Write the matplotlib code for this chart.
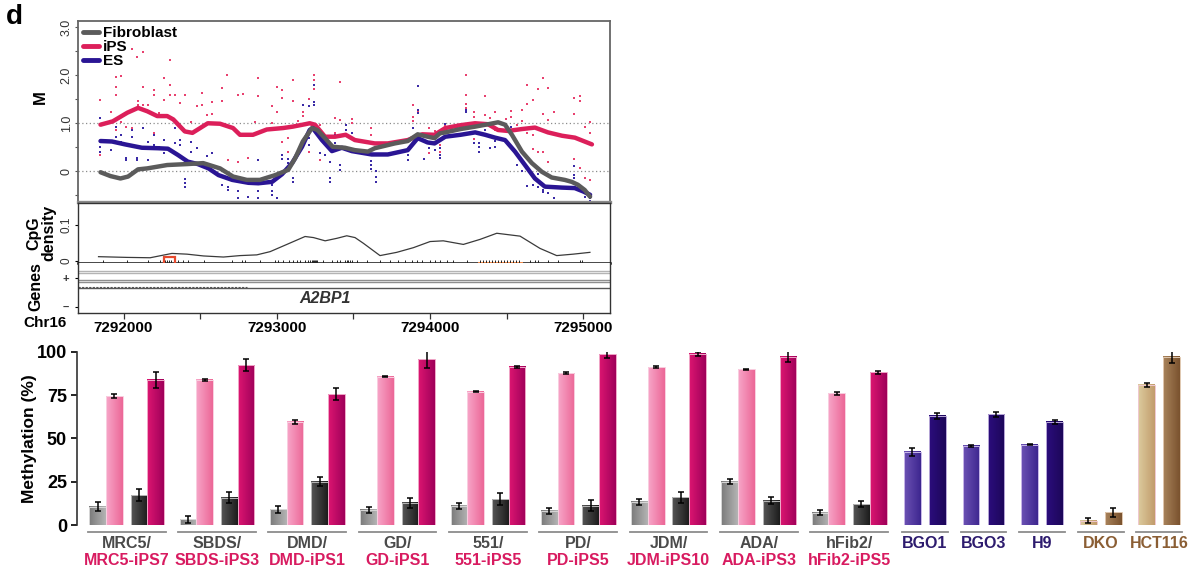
import numpy as np
import matplotlib
matplotlib.use("Agg")
import matplotlib.pyplot as plt
from matplotlib.colors import LinearSegmentedColormap
from matplotlib.lines import Line2D
from matplotlib.patches import Rectangle

plt.rcParams['font.family'] = ['Liberation Sans', 'DejaVu Sans']

# ---------------------------------------------------------------- data
# smoothed methylation (M) along chr16 for the three cell types
fibro_curve = [(7291850, -0.02), (7291915, -0.10), (7291980, -0.15), (7292030, -0.11),
               (7292095, 0.04), (7292155, 0.06), (7292285, 0.13), (7292415, 0.15),
               (7292520, 0.17), (7292630, 0.06), (7292715, -0.11), (7292805, -0.18),
               (7292890, -0.18), (7292990, -0.08), (7293075, 0.03), (7293120, 0.27),
               (7293170, 0.62), (7293230, 0.90), (7293265, 0.86), (7293315, 0.69),
               (7293365, 0.51), (7293445, 0.49), (7293510, 0.44), (7293595, 0.41),
               (7293640, 0.48), (7293770, 0.58), (7293855, 0.63), (7293920, 0.77),
               (7293985, 0.72), (7294030, 0.69), (7294065, 0.79), (7294100, 0.81),
               (7294200, 0.88), (7294295, 0.93), (7294380, 0.98), (7294445, 1.02),
               (7294490, 0.97), (7294535, 0.76), (7294600, 0.41), (7294665, 0.17),
               (7294730, -0.01), (7294795, -0.13), (7294880, -0.18), (7294925, -0.22),
               (7294965, -0.28), (7295010, -0.39), (7295045, -0.53)]
ips_curve = [(7291850, 0.97), (7291930, 1.04), (7292025, 1.22), (7292095, 1.32),
             (7292155, 1.25), (7292220, 1.15), (7292285, 1.15), (7292325, 1.08),
             (7292400, 0.83), (7292450, 0.80), (7292500, 0.90), (7292550, 1.00),
             (7292630, 0.99), (7292715, 0.90), (7292760, 0.76), (7292845, 0.76),
             (7292935, 0.87), (7293040, 0.90), (7293105, 0.93), (7293185, 0.98),
             (7293215, 1.00), (7293250, 0.97), (7293315, 0.72), (7293380, 0.72),
             (7293450, 0.76), (7293510, 0.65), (7293640, 0.58), (7293725, 0.58),
             (7293855, 0.65), (7293950, 0.77), (7294030, 0.76), (7294100, 0.90),
             (7294200, 0.96), (7294294, 1.00), (7294379, 0.98), (7294444, 0.86),
             (7294509, 0.84), (7294601, 0.88), (7294685, 0.91), (7294770, 0.81),
             (7294862, 0.74), (7294946, 0.70), (7295057, 0.56)]
es_curve = [(7291850, 0.63), (7291925, 0.62), (7292010, 0.56), (7292120, 0.49),
            (7292225, 0.48), (7292290, 0.47), (7292355, 0.34), (7292420, 0.20),
            (7292485, 0.15), (7292555, 0.06), (7292620, -0.08), (7292710, -0.18),
            (7292815, -0.24), (7292880, -0.25), (7292970, -0.22), (7293035, -0.06),
            (7293100, 0.17), (7293165, 0.51), (7293215, 0.86), (7293235, 0.90),
            (7293295, 0.65), (7293360, 0.42), (7293425, 0.49), (7293490, 0.42),
            (7293620, 0.35), (7293725, 0.35), (7293855, 0.44), (7293920, 0.69),
            (7293985, 0.60), (7294030, 0.58), (7294100, 0.72), (7294200, 0.76),
            (7294295, 0.81), (7294360, 0.76), (7294425, 0.70), (7294490, 0.65),
            (7294555, 0.41), (7294620, 0.13), (7294685, -0.15), (7294750, -0.32),
            (7294860, -0.34), (7294945, -0.35), (7295000, -0.42), (7295045, -0.49)]

# individual sample values at CpG sites
ips_dots = [(7291848, 1.49), (7291848, 0.34), (7291920, 1.24), (7291952, 1.97), (7291952, 1.76),
            (7291952, 1.59), (7291952, 0.86), (7291985, 1.99), (7291985, 1.03), (7292018, 0.93),
            (7292057, 2.54), (7292057, 0.90), (7292089, 2.37), (7292096, 1.47), (7292096, 1.38),
            (7292129, 2.48), (7292129, 1.76), (7292129, 1.38), (7292161, 1.38), (7292200, 1.69),
            (7292200, 1.59), (7292200, 0.79), (7292233, 1.22), (7292265, 1.95), (7292265, 1.49),
            (7292304, 2.32), (7292304, 1.80), (7292304, 1.59), (7292337, 1.59), (7292370, 1.42),
            (7292402, 1.59), (7292442, 1.02), (7292481, 1.35), (7292513, 1.62), (7292513, 1.38),
            (7292546, 1.17), (7292579, 1.19), (7292579, 1.44), (7292644, 1.73), (7292644, 1.47),
            (7292676, 2.00), (7292683, 0.24), (7292748, 1.59), (7292748, 0.20), (7292781, 1.61),
            (7292813, 0.27), (7292859, 1.03), (7292879, 1.95), (7292879, 1.57), (7292970, 1.35),
            (7292970, 1.00), (7293003, 1.76), (7293003, 1.24), (7293035, 1.69), (7293035, 1.52),
            (7293035, 0.62), (7293074, 0.69), (7293074, 0.41), (7293106, 1.90), (7293106, 1.47),
            (7293139, 1.05), (7293171, 1.24), (7293171, 1.15), (7293210, 1.50), (7293210, 0.41),
            (7293243, 2.00), (7293243, 1.90), (7293243, 1.80), (7293243, 1.72), (7293282, 0.97),
            (7293282, 0.24), (7293347, 0.58), (7293380, 1.10), (7293380, 0.79), (7293413, 1.85),
            (7293413, 1.07), (7293452, 0.97), (7293491, 1.09), (7293491, 1.00), (7293615, 0.91),
            (7293615, 0.76), (7293889, 1.38), (7293889, 1.14), (7293889, 1.05), (7293921, 1.24),
            (7293994, 0.90), (7293994, 0.38), (7294032, 0.83), (7294065, 0.55), (7294065, 0.41),
            (7294098, 0.97), (7294235, 2.00), (7294235, 1.59), (7294235, 1.40), (7294235, 1.31),
            (7294287, 1.24), (7294287, 1.14), (7294287, 0.67), (7294359, 1.56), (7294359, 1.17),
            (7294392, 1.10), (7294424, 1.24), (7294424, 0.86), (7294496, 1.09), (7294529, 1.26),
            (7294529, 1.14), (7294568, 0.97), (7294601, 1.28), (7294601, 1.05), (7294633, 1.80),
            (7294633, 1.40), (7294633, 0.79), (7294672, 1.49), (7294672, 0.76), (7294672, 0.47),
            (7294705, 1.72), (7294705, 0.40), (7294738, 1.94), (7294738, 1.19), (7294738, 0.40),
            (7294770, 1.73), (7294770, 1.07), (7294770, 0.20), (7294809, 1.23), (7294940, 1.52),
            (7294940, 1.19), (7294940, 0.26), (7294979, 1.56), (7294979, 1.47), (7294979, 0.06),
            (7295011, 0.93), (7295011, -0.13), (7295044, 1.02), (7295044, 0.79), (7295044, -0.19)]
es_dots = [(7291848, 1.12), (7291848, 0.41), (7291848, 0.51), (7291920, 0.44), (7291952, 0.93),
           (7291952, 0.72), (7291985, 0.76), (7291985, 0.62), (7292018, 0.28), (7292018, 0.24),
           (7292057, 0.86), (7292057, 0.72), (7292089, 0.28), (7292089, 0.24), (7292129, 0.90),
           (7292129, 0.51), (7292161, 0.62), (7292161, 0.24), (7292200, 0.76), (7292200, 0.55),
           (7292233, 0.51), (7292265, 0.65), (7292265, 0.38), (7292337, 0.90), (7292337, 0.58),
           (7292370, 0.65), (7292370, 0.55), (7292402, -0.17), (7292402, -0.25), (7292402, -0.32),
           (7292442, 0.62), (7292442, 0.41), (7292481, 0.49), (7292513, 0.10), (7292546, 0.31),
           (7292579, 0.38), (7292644, -0.28), (7292683, -0.32), (7292683, -0.39), (7292748, -0.42),
           (7292748, -0.55), (7292813, -0.53), (7292879, -0.42), (7292879, -0.55), (7292879, 0.24),
           (7292970, -0.28), (7292970, -0.42), (7292970, -0.49), (7293003, -0.56), (7293035, 0.34),
           (7293035, 0.26), (7293074, 0.26), (7293074, 0.17), (7293106, -0.15), (7293106, -0.22),
           (7293171, 1.38), (7293210, 1.36), (7293210, 0.69), (7293210, 0.55), (7293243, 1.80),
           (7293243, 1.45), (7293243, 1.38), (7293282, 0.38), (7293315, 0.34), (7293347, 0.20),
           (7293347, -0.15), (7293347, -0.23), (7293380, 0.76), (7293380, 0.58), (7293413, 0.13),
           (7293413, 0.03), (7293452, 0.97), (7293452, 0.86), (7293491, 0.79), (7293615, 0.22),
           (7293615, 0.13), (7293615, 0.05), (7293648, 0.00), (7293648, -0.11), (7293648, -0.22),
           (7293856, 0.34), (7293856, 0.24), (7293889, 0.91), (7293921, 1.78), (7293921, 1.28),
           (7293921, 1.21), (7293961, 0.26), (7293994, 0.48), (7294032, 0.44), (7294065, 0.48),
           (7294065, 0.34), (7294065, 0.27), (7294098, 0.98), (7294235, 1.28), (7294235, 1.24),
           (7294287, 0.58), (7294320, 0.58), (7294320, 0.51), (7294320, 0.41), (7294359, 0.86),
           (7294392, 0.48), (7294424, 0.63), (7294424, 0.51), (7294529, 0.93), (7294568, 0.34),
           (7294568, 0.13), (7294601, 0.00), (7294633, -0.30), (7294672, -0.28), (7294705, -0.06),
           (7294705, -0.32), (7294738, -0.39), (7294738, -0.43), (7294770, -0.46), (7294809, -0.55),
           (7294940, 0.12), (7294940, -0.08), (7294940, -0.15), (7294940, -0.22), (7294979, -0.42),
           (7295011, -0.53), (7295044, -0.49), (7295044, -0.56), (7295044, -0.62)]

# CpG density along the region
cpg_density = [(7291837, 0.012), (7292022, 0.010), (7292174, 0.009), (7292316, 0.021),
               (7292414, 0.019), (7292522, 0.014), (7292652, 0.011), (7292761, 0.015),
               (7292870, 0.017), (7292957, 0.026), (7293066, 0.046), (7293185, 0.068),
               (7293240, 0.065), (7293316, 0.056), (7293393, 0.063), (7293457, 0.070),
               (7293511, 0.065), (7293566, 0.049), (7293674, 0.015), (7293783, 0.024),
               (7293892, 0.037), (7294001, 0.054), (7294087, 0.056), (7294218, 0.046),
               (7294327, 0.060), (7294436, 0.077), (7294588, 0.069), (7294718, 0.035),
               (7294827, 0.015), (7294935, 0.019), (7295044, 0.024)]
cpg_sites = [7291868, 7292024, 7292161, 7292239, 7292272, 7292285, 7292298, 7292311, 7292357,
             7292389, 7292422, 7292526, 7292709, 7292774, 7292794, 7292892, 7292990, 7293009,
             7293041, 7293080, 7293106, 7293132, 7293152, 7293184, 7293204, 7293217, 7293230,
             7293237, 7293243, 7293250, 7293256, 7293263, 7293302, 7293361, 7293393, 7293413,
             7293445, 7293458, 7293465, 7293478, 7293491, 7293523, 7293589, 7293674, 7293739,
             7293791, 7293837, 7293882, 7293915, 7293948, 7294001, 7294032, 7294065, 7294111,
             7294150, 7294241, 7294327, 7294346, 7294366, 7294385, 7294405, 7294424, 7294444,
             7294464, 7294483, 7294503, 7294522, 7294542, 7294562, 7294581, 7294653, 7294685,
             7294705, 7294770, 7294835, 7294979, 7294992]
island_region = (7294312, 7294605)
marked_region = (7292262, 7292337)
gene_name = "A2BP1"
gene_label_pos = 7293315
genome_ticks = [7292000, 7293000, 7294000, 7295000]

# bisulfite pyrosequencing: fibroblast / iPS pairs (two measurements each)
fibro_names = ["MRC5/", "SBDS/", "DMD/", "GD/", "551/", "PD/", "JDM/", "ADA/", "hFib2/"]
ips_names = ["MRC5-iPS7", "SBDS-iPS3", "DMD-iPS1", "GD-iPS1", "551-iPS5", "PD-iPS5",
             "JDM-iPS10", "ADA-iPS3", "hFib2-iPS5"]
fib_a = [10.6, 3.3, 9.0, 8.7, 11.0, 8.1, 13.3, 25.0, 7.1]
fib_a_err = [2.7, 2.0, 1.9, 1.9, 1.5, 1.6, 1.9, 1.5, 1.5]
ips_a = [74.4, 83.7, 59.6, 85.6, 76.9, 87.5, 91.0, 89.8, 76.0]
ips_a_err = [1.2, 0.5, 1.2, 0.4, 0.4, 0.6, 0.5, 0.2, 1.0]
fib_b = [17.3, 15.8, 25.0, 12.9, 14.8, 11.2, 16.0, 14.0, 12.1]
fib_b_err = [3.3, 3.2, 2.7, 2.9, 3.4, 3.4, 3.2, 1.9, 1.9]
ips_b = [83.7, 92.3, 75.4, 95.6, 91.3, 98.5, 98.7, 97.1, 88.1]
ips_b_err = [4.6, 3.3, 3.5, 4.8, 0.5, 2.0, 1.2, 3.2, 0.8]

other_names = ["BGO1", "BGO3", "H9", "DKO", "HCT116"]
other_a = [42.3, 45.6, 46.3, 2.5, 80.8]
other_a_err = [2.2, 0.5, 0.3, 1.4, 1.1]
other_b = [62.9, 63.8, 59.6, 7.3, 97.1]
other_b_err = [1.9, 1.2, 1.1, 2.4, 3.7]
methyl_ticks = [0, 25, 50, 75, 100]

# ---------------------------------------------------------------- style
C_FIB, C_IPS, C_ES = "#5b5b5b", "#dc1f5a", "#2a1594"
C_IPS_DOT, C_ES_DOT = "#e8416f", "#3a2aa6"
C_IPS_TXT = "#d81b60"
C_ES_TXT, C_CANCER_TXT = "#2d1b6e", "#8b5e34"

W, H = 1196, 575
fig = plt.figure(figsize=(W / 100, H / 100), dpi=100)


def axes_px(l, t, r, b):
    return fig.add_axes([l / W, 1 - b / H, (r - l) / W, (b - t) / H])


def text_px(x, y, s, **kw):
    fig.text(x / W, 1 - y / H, s, **kw)


XLIM = (7291705, 7295175)

# ---------------------------------------------------------------- methylation track
ax = axes_px(78.3, 21, 610, 202)
ax.set_xlim(*XLIM)
ax.set_ylim(-0.64, 3.13)
for yv in (0, 1):
    ax.axhline(yv, color="#8c8c8c", lw=0.9, ls=(0, (1, 2)), zorder=1)

for dots, col in ((ips_dots, C_IPS_DOT), (es_dots, C_ES_DOT)):
    px, py = zip(*dots)
    ax.plot(px, py, ls="none", marker="s", ms=1.9, mew=0, color=col, zorder=2)

for curve, col in ((ips_curve, C_IPS), (es_curve, C_ES), (fibro_curve, C_FIB)):
    cx, cy = zip(*curve)
    ax.plot(cx, cy, color=col, lw=3.2, solid_joinstyle="round",
            solid_capstyle="round", zorder=3)

ax.set_xticks([])
ax.set_yticks(np.arange(-0.5, 3.01, 0.5))
ax.set_yticklabels(["", "0", "", "1.0", "", "2.0", "", "3.0"],
                   rotation=90, va="center", fontsize=9, color="#333333")
ax.tick_params(axis="y", length=2.5, width=0.8, pad=1.5, color="#555555")
for side in ("left", "right", "top"):
    ax.spines[side].set_color("#666666")
    ax.spines[side].set_linewidth(1.3)
ax.spines["bottom"].set_color("#8a8a8a")
ax.spines["bottom"].set_linewidth(2.4)

handles = [Line2D([], [], color=c, lw=3.5, solid_capstyle="round")
           for c in (C_FIB, C_IPS, C_ES)]
ax.legend(handles, ["Fibroblast", "iPS", "ES"], loc="upper left",
          bbox_to_anchor=(0.008, 0.972), frameon=False, borderpad=0,
          borderaxespad=0, handlelength=1.1, handletextpad=0.25,
          labelspacing=0.0, prop={"weight": "bold", "size": 11})

# ---------------------------------------------------------------- CpG density track
ax2 = axes_px(78.3, 203, 610, 263.3)
ax2.set_xlim(*XLIM)
ax2.set_ylim(-0.0064, 0.161)
dx, dy = zip(*cpg_density)
ax2.plot(dx, dy, color="#3a3a3a", lw=0.9)
ax2.add_patch(Rectangle((island_region[0], -0.0115), island_region[1] - island_region[0],
                        0.0095, facecolor="#f08a4b", edgecolor="none",
                        clip_on=False, zorder=5))
ax2.vlines(cpg_sites, -0.0064, 0.0028, color="#222222", lw=0.7, zorder=6)
ax2.add_patch(Rectangle((marked_region[0], -0.0175), marked_region[1] - marked_region[0],
                        0.0295, fill=False, edgecolor="#e64a2e", lw=1.6,
                        clip_on=False, zorder=7))
ax2.set_xticks([])
ax2.set_yticks([0, 0.1])
ax2.set_yticklabels(["0", "0.1"], rotation=90, va="center", fontsize=8.5, color="#333333")
ax2.tick_params(axis="y", length=2.5, width=0.8, pad=1.5)
for side in ("left", "right", "top"):
    ax2.spines[side].set_color("#333333")
    ax2.spines[side].set_linewidth(1.0)
ax2.spines["bottom"].set_color("#111111")
ax2.spines["bottom"].set_linewidth(1.8)
ax2.spines["bottom"].set_zorder(4)

# ---------------------------------------------------------------- gene track
ax3 = axes_px(78.3, 263.3, 610, 313)
ax3.set_xlim(*XLIM)
ax3.set_ylim(0, 1)
for yv, col in ((0.845, "#b4b4b4"), (0.811, "#b4b4b4"), (0.658, "#8e8e8e"),
                (0.618, "#8e8e8e"), (0.505, "#555555")):
    ax3.axhline(yv, color=col, lw=1.0)
ax3.plot([XLIM[0], 7292806], [0.53, 0.53], color="#555555", lw=0.8, ls=(0, (2, 1.2)))
ax3.text(gene_label_pos, 0.30, gene_name, ha="center", va="center",
         fontsize=11.5, fontweight="bold", fontstyle="italic", color="#333333")
ax3.set_yticks([0.70, 0.12])
ax3.set_yticklabels(["+", "\u2013"], fontsize=8, fontweight="bold", color="#333333")
ax3.tick_params(axis="y", length=2.5, width=0.8, pad=4)
ax3.set_xticks(genome_ticks)
ax3.set_xticklabels([str(t) for t in genome_ticks], fontsize=11, fontweight="bold")
ax3.set_xticks([t + 500 for t in genome_ticks[:-1]], minor=True)
ax3.tick_params(axis="x", which="both", length=4, width=0.9, pad=1.5, color="#333333")
ax3.spines["top"].set_visible(False)
for side in ("left", "right", "bottom"):
    ax3.spines[side].set_color("#333333")
    ax3.spines[side].set_linewidth(1.0)

# track labels
text_px(14, 17, "d", fontsize=20, fontweight="bold", ha="center", va="center")
text_px(40, 97, "M", fontsize=12, fontweight="bold", rotation=90, ha="center", va="center")
text_px(34, 233, "CpG", fontsize=11.5, fontweight="bold", rotation=90, ha="center", va="center")
text_px(49, 233, "density", fontsize=11.5, fontweight="bold", rotation=90, ha="center", va="center")
text_px(36, 287, "Genes", fontsize=11.5, fontweight="bold", rotation=90, ha="center", va="center")
text_px(45, 323, "Chr16", fontsize=11, fontweight="bold", ha="center", va="center")

# ---------------------------------------------------------------- bar chart
bx = axes_px(76.7, 351.7, 1196, 525)
BW = 16.7


def gradient_bars(x, vals, errs, c_left, c_right, edge):
    bars = bx.bar(x, vals, width=BW, align="edge",
                  color=c_right, edgecolor="none", zorder=2)
    cmap = LinearSegmentedColormap.from_list("g", [c_left, c_right])
    grad = np.linspace(0, 1, 64).reshape(1, -1)
    for p in bars:
        x0, w, h = p.get_x(), p.get_width(), p.get_height()
        bx.imshow(grad, cmap=cmap, extent=(x0, x0 + w, 0, h), aspect="auto",
                  interpolation="bilinear", zorder=2.5)
        bx.add_patch(Rectangle((x0, 0), w, h, fill=False, edgecolor=edge,
                               lw=0.7, zorder=2.7))
    centers = np.asarray(x) + BW / 2
    bx.errorbar(centers, vals, yerr=errs, fmt="none", ecolor="black",
                elinewidth=1.1, capsize=2.4, capthick=1.1, zorder=4)


n_pairs = len(fibro_names)
base = 89.3 + np.arange(n_pairs) * 90.3
gradient_bars(base, fib_a, fib_a_err, "#7a7a7a", "#b4b4b4", "#d8d8d8")
gradient_bars(base + BW, ips_a, ips_a_err, "#f7a6c8", "#ec6797", "#f9cfe0")
gradient_bars(base + 41.4, fib_b, fib_b_err, "#565656", "#1c1c1c", "#b8b8b8")
gradient_bars(base + 41.4 + BW, ips_b, ips_b_err, "#dc1671", "#a0005a", "#f0a8c8")

obase = 904 + np.arange(len(other_names)) * 58.6
es_idx = np.arange(3)
ca_idx = np.arange(3, 5)
gradient_bars(obase[es_idx], np.take(other_a, es_idx), np.take(other_a_err, es_idx),
              "#6c52b4", "#3d268f", "#c8b8e8")
gradient_bars(obase[es_idx] + 25, np.take(other_b, es_idx), np.take(other_b_err, es_idx),
              "#2c0d7c", "#1c075a", "#b8a8d8")
gradient_bars(obase[ca_idx], np.take(other_a, ca_idx), np.take(other_a_err, ca_idx),
              "#dccb9e", "#c29c6c", "#f0c8d0")
gradient_bars(obase[ca_idx] + 25, np.take(other_b, ca_idx), np.take(other_b_err, ca_idx),
              "#a9845c", "#7a522e", "#e0c8b0")

bx.set_xlim(76.7, 1196)
bx.set_ylim(0, 100)
bx.set_xticks([])
bx.set_yticks(methyl_ticks)
bx.set_yticklabels([str(t) for t in methyl_ticks], fontsize=13, fontweight="bold")
bx.tick_params(axis="y", length=4, width=1.2, pad=3)
for side in ("top", "right", "bottom"):
    bx.spines[side].set_visible(False)
bx.spines["left"].set_linewidth(1.2)
bx.spines["left"].set_color("#333333")
bx.set_ylabel("Methylation (%)", fontsize=12.5, fontweight="bold")
bx.yaxis.set_label_coords((37 - 76.7) / (1196 - 76.7), 0.5)

for i in range(n_pairs):
    x0, x1 = base[i], base[i] + 41.4 + 2 * BW
    bx.plot([x0 - 1.5, x1 + 1.5], [-3.9, -3.9], color="#8c8c8c", lw=1.3, clip_on=False)
    xc = (x0 + x1) / 2
    bx.text(xc, -10.6, fibro_names[i], ha="center", va="center", fontsize=11.5,
            fontweight="bold", color="#4a4a4a", clip_on=False)
    bx.text(xc, -20.2, ips_names[i], ha="center", va="center", fontsize=11.5,
            fontweight="bold", color=C_IPS_TXT, clip_on=False)

for j, name in enumerate(other_names):
    x0, x1 = obase[j], obase[j] + 25 + BW
    bx.plot([x0 - 2, x1 + 2], [-3.9, -3.9], color="#8c8c8c", lw=1.3, clip_on=False)
    col = C_ES_TXT if j < 3 else C_CANCER_TXT
    bx.text((x0 + x1) / 2, -10.6, name, ha="center", va="center", fontsize=11.5,
            fontweight="bold", color=col, clip_on=False)

fig.savefig("out.png", dpi=100)
